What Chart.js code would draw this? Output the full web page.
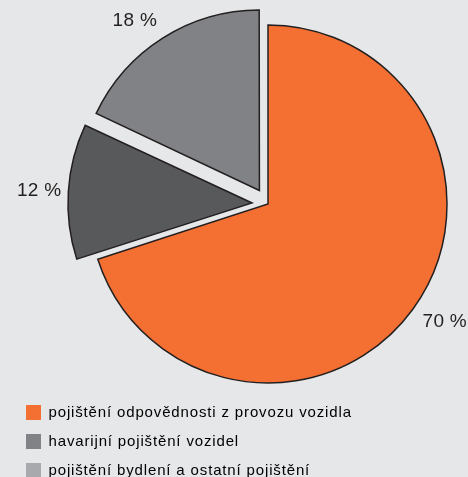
<!DOCTYPE html>
<html>
<head>
<meta charset="utf-8">
<script src="https://cdn.jsdelivr.net/npm/chart.js@4/dist/chart.umd.min.js"></script>
<style>
  html, body { margin: 0; padding: 0; background: #e6e7e8; overflow: hidden; }
  #wrap { width: 524px; height: 488px; position: relative; }
</style>
</head>
<body>
<div id="wrap"><canvas id="c"></canvas></div>
<script>
const categories = [
  'pojištění odpovědnosti z provozu vozidla',
  'havarijní pojištění vozidel',
  'pojištění bydlení a ostatní pojištění'
];
const shares = [70, 12, 18];
const valueLabels = ['70 %', '12 %', '18 %'];
const sliceColors = ['#f37032', '#58595b', '#808285'];
const legendColors = ['#f37032', '#808285', '#a7a9ac'];

const textColor = '#231f20';
const fontFamily = '"Liberation Sans", Arial, sans-serif';

const trackingPlugin = {
  id: 'tracking',
  beforeLayout(chart) { chart.ctx.letterSpacing = '0.85px'; },
  beforeDraw(chart) { chart.ctx.letterSpacing = '0.85px'; }
};

const valueLabelPlugin = {
  id: 'valueLabels',
  afterDatasetsDraw(chart) {
    const meta = chart.getDatasetMeta(0);
    const ctx = chart.ctx;
    ctx.save();
    ctx.letterSpacing = '0.3px';
    ctx.font = '19px ' + fontFamily;
    ctx.fillStyle = textColor;
    ctx.textBaseline = 'middle';
    meta.data.forEach((arc, i) => {
      const p = arc.getProps(['x', 'y', 'startAngle', 'endAngle', 'outerRadius'], true);
      const mid = (p.startAngle + p.endAngle) / 2;
      const ux = Math.cos(mid), uy = Math.sin(mid);
      const shift = (arc.options.offset || 0) / 4;
      const dist = shift + p.outerRadius + 12;
      const h = 20;
      ctx.textAlign = ux < 0 ? 'right' : 'left';
      ctx.fillText(valueLabels[i], p.x + ux * dist, p.y + uy * dist + uy * h / 2);
    });
    ctx.restore();
  }
};

new Chart(document.getElementById('c'), {
  type: 'pie',
  data: {
    labels: categories,
    datasets: [{
      data: shares,
      backgroundColor: sliceColors,
      borderColor: '#231f20',
      borderWidth: 1.5,
      borderJoinStyle: 'miter',
      offset: [0, 64, 64],
      hoverOffset: 0
    }]
  },
  options: {
    responsive: true,
    maintainAspectRatio: false,
    animation: false,
    radius: 179,
    layout: { padding: { left: 12, right: 0, top: 17, bottom: 0 } },
    events: [],
    plugins: {
      tooltip: { enabled: false },
      legend: {
        position: 'bottom',
        align: 'start',
        labels: {
          boxWidth: 15,
          boxHeight: 15,
          padding: 14,
          color: textColor,
          font: { size: 15, family: fontFamily },
          generateLabels: () => categories.map((t, i) => ({
            text: t,
            fillStyle: legendColors[i],
            strokeStyle: 'rgba(0,0,0,0)',
            lineWidth: 0,
            hidden: false,
            index: i
          }))
        }
      }
    }
  },
  plugins: [trackingPlugin, valueLabelPlugin]
});
</script>
</body>
</html>
